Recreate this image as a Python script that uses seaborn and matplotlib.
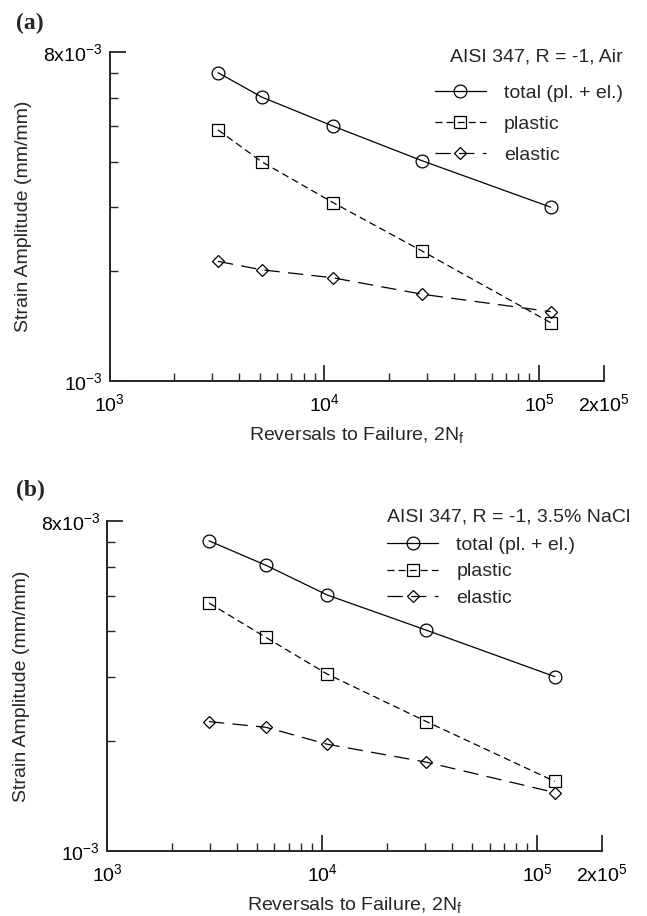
import numpy as np
import pandas as pd
import matplotlib
matplotlib.use("Agg")
import matplotlib.pyplot as plt
import matplotlib.ticker as mticker
import seaborn as sns

# ---------------- data ----------------
cycles_a = [3200, 5100, 10950, 28600, 113000]
total_a = [7.02e-3, 6.02e-3, 5.01e-3, 4.02e-3, 3.00e-3]
plastic_a = [4.89e-3, 4.00e-3, 3.09e-3, 2.27e-3, 1.445e-3]
elastic_a = [2.13e-3, 2.02e-3, 1.92e-3, 1.73e-3, 1.55e-3]

cycles_b = [2980, 5490, 10550, 30560, 120800]
total_b = [7.06e-3, 6.05e-3, 5.02e-3, 4.02e-3, 3.00e-3]
plastic_b = [4.77e-3, 3.84e-3, 3.05e-3, 2.26e-3, 1.55e-3]
elastic_b = [2.26e-3, 2.18e-3, 1.96e-3, 1.75e-3, 1.445e-3]

series_labels = ["total (pl. + el.)", "plastic", "elastic"]
titles = ["AISI 347, R = -1, Air", "AISI 347, R = -1, 3.5% NaCl"]
panel_tags = ["(a)", "(b)"]
xlabel = r"Reversals to Failure, 2N$_\mathregular{f}$"
ylabel = "Strain Amplitude (mm/mm)"
xticks_major = [1e3, 1e4, 1e5, 2e5]
xtick_labels = [r"$\mathregular{10^{3}}$", r"$\mathregular{10^{4}}$",
                r"$\mathregular{10^{5}}$", r"$\mathregular{2x10^{5}}$"]
yticks_major = [1e-3, 8e-3]
ytick_labels = [r"$\mathregular{10^{-3}}$", r"$\mathregular{8x10^{-3}}$"]

# ---------------- style ----------------
sns.set_theme(style="ticks")
plt.rcParams["font.family"] = ["Liberation Sans", "DejaVu Sans"]
plt.rcParams["mathtext.fontset"] = "custom"
plt.rcParams["mathtext.rm"] = "Liberation Sans"
plt.rcParams["mathtext.it"] = "Liberation Sans:italic"
plt.rcParams["lines.scale_dashes"] = False

W, H = 647, 916
fig = plt.figure(figsize=(W / 100, H / 100), dpi=100)

def fbox(l, r, t, b):
    return [l / W, 1 - b / H, (r - l) / W, (b - t) / H]

axes_boxes = [fbox(109.5, 604, 52, 381), fbox(107, 602, 521, 851)]
styles = [
    dict(marker="o", ms=9.2, ls="-"),
    dict(marker="s", ms=8.4, ls=(0, (5, 3))),
    dict(marker="D", ms=5.8, ls=(0, (11, 6))),
]
legend_cfg = [
    dict(anchor=(623, 48), loc="upper right", align="right", ls=0.68, ts=14),
    dict(anchor=(387, 508), loc="upper left", align="left", ls=0.47, ts=8),
]
tag_pos = [(16, 23), (16, 490)]
FS = 14

datasets = [
    (cycles_a, [total_a, plastic_a, elastic_a]),
    (cycles_b, [total_b, plastic_b, elastic_b]),
]

for i, (cyc, ys) in enumerate(datasets):
    ax = fig.add_axes(axes_boxes[i])
    for lab, yv, st in zip(series_labels, ys, styles):
        df = pd.DataFrame({"cycles": cyc, "strain": yv})
        sns.lineplot(data=df, x="cycles", y="strain", ax=ax, color="black",
                     lw=0.9, marker=st["marker"], ms=st["ms"], mfc="none",
                     mec="black", mew=0.9, linestyle=st["ls"], label=lab,
                     sort=False, errorbar=None)
    ax.set_xscale("log")
    ax.set_yscale("log")
    ax.set_xlim(1e3, 2e5)
    ax.set_ylim(1e-3, 8e-3)
    for s in ["top", "right"]:
        ax.spines[s].set_visible(False)
    for s in ["left", "bottom"]:
        ax.spines[s].set_linewidth(1.4)
    ax.xaxis.set_major_locator(mticker.FixedLocator(xticks_major))
    ax.xaxis.set_major_formatter(mticker.FixedFormatter(xtick_labels))
    ax.xaxis.set_minor_locator(mticker.LogLocator(base=10, subs=np.arange(2, 10), numticks=20))
    ax.xaxis.set_minor_formatter(mticker.NullFormatter())
    ax.yaxis.set_major_locator(mticker.FixedLocator(yticks_major))
    ax.yaxis.set_major_formatter(mticker.FixedFormatter(ytick_labels))
    ax.yaxis.set_minor_locator(mticker.LogLocator(base=10, subs=np.arange(2, 8), numticks=20))
    ax.yaxis.set_minor_formatter(mticker.NullFormatter())
    ax.tick_params(which="major", direction="in", length=11.5, width=1.1,
                   labelsize=FS, colors="black")
    ax.tick_params(axis="x", which="major", pad=9)
    ax.tick_params(axis="y", which="major", pad=5)
    ax.tick_params(which="minor", direction="in", length=5.8, width=1.0)
    ax.set_xlabel(xlabel, fontsize=FS, labelpad=7)
    ax.set_ylabel(ylabel, fontsize=FS, labelpad=8)

    cfg = legend_cfg[i]
    leg = ax.legend(title=titles[i], loc=cfg["loc"],
                    bbox_to_anchor=(cfg["anchor"][0] / W, 1 - cfg["anchor"][1] / H),
                    bbox_transform=fig.transFigure, frameon=False, fontsize=FS,
                    title_fontsize=FS, handlelength=2.63, handletextpad=0.93,
                    labelspacing=cfg["ls"], borderpad=0, borderaxespad=0,
                    alignment=cfg["align"])
    leg._legend_box.sep = cfg["ts"]

    fig.text(tag_pos[i][0] / W, 1 - tag_pos[i][1] / H, panel_tags[i],
             family="Liberation Serif", weight="bold", fontsize=17,
             va="center", ha="left")

fig.savefig("out.png", dpi=100)
